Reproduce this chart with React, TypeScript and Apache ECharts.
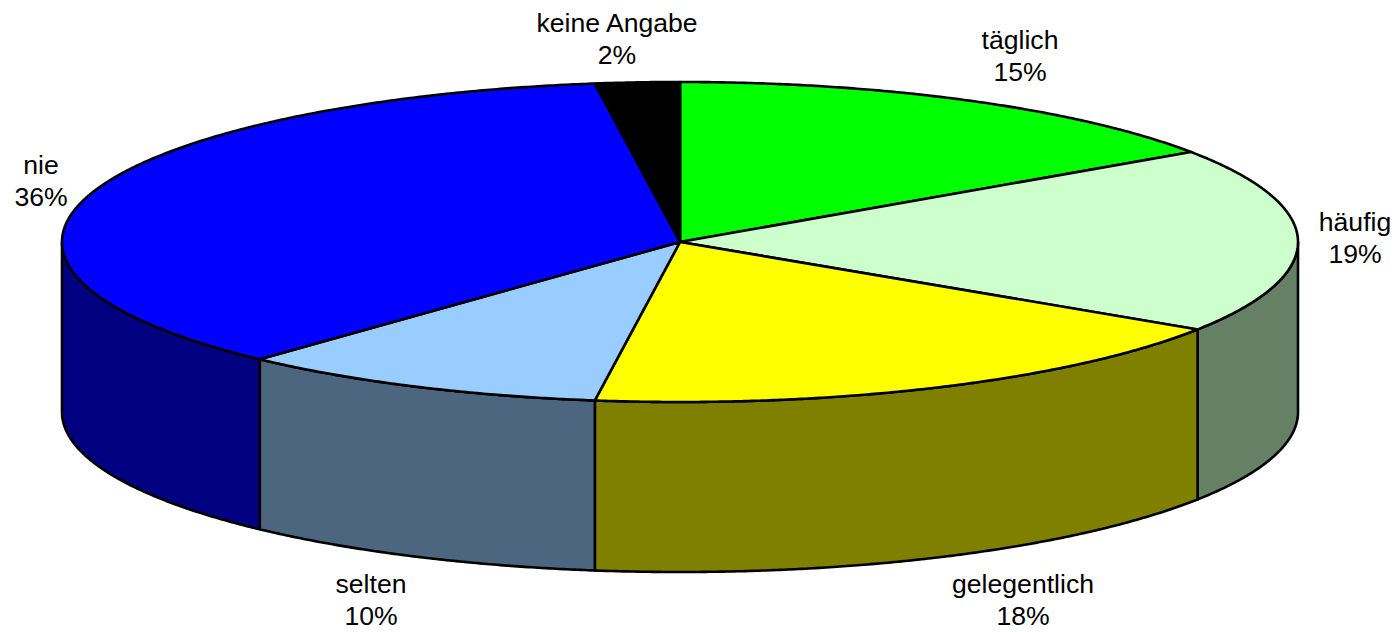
import React, { useEffect, useRef } from "react";
import * as echarts from "echarts";

const categories = ["täglich", "häufig", "gelegentlich", "selten", "nie", "keine Angabe"];
const values = [15.5, 18.7, 18.0, 9.7, 35.9, 2.2];
const percentLabels = ["15%", "19%", "18%", "10%", "36%", "2%"];
const topColors = ["#00ff00", "#ccffcc", "#ffff00", "#99ccff", "#0000ff", "#000000"];
const wallColors = ["#008000", "#668066", "#808000", "#4d6680", "#000080", "#000000"];
const labelX = [1020, 1355, 1023, 371, 41, 617];
const labelY = [56, 238, 600, 600, 181, 39];

const CX = 680;
const CY = 242;
const RX = 618;
const RY = 160;
const DEPTH = 170;
const total = values.reduce((a, b) => a + b, 0);

const point = (deg: number, dy = 0): number[] => {
  const t = (deg * Math.PI) / 180;
  return [CX + RX * Math.sin(t), CY - RY * Math.cos(t) + dy];
};

const sweep = (i: number): [number, number] => {
  let before = 0;
  for (let k = 0; k < i; k++) before += values[k];
  return [(before / total) * 360, ((before + values[i]) / total) * 360];
};

const arc = (a: number, b: number, dy = 0): number[][] => {
  const steps = Math.max(2, Math.ceil((b - a) * 3));
  const out: number[][] = [];
  for (let s = 0; s <= steps; s++) out.push(point(a + ((b - a) * s) / steps, dy));
  return out;
};

const edgeStyle = { stroke: "#000000", lineWidth: 2.6, lineJoin: "round" as const };

const renderWall = (params: any) => {
  const i = params.dataIndex;
  const [a, b] = sweep(i);
  const from = Math.max(a, 90);
  const to = Math.min(b, 270);
  if (to <= from) return { type: "group", children: [] };
  const points = [...arc(from, to), ...arc(from, to, DEPTH).reverse()];
  return {
    type: "polygon",
    shape: { points },
    style: { ...edgeStyle, fill: wallColors[i] },
  };
};

const renderTop = (params: any) => {
  const i = params.dataIndex;
  const [a, b] = sweep(i);
  return {
    type: "polygon",
    shape: { points: [[CX, CY], ...arc(a, b)] },
    style: { ...edgeStyle, fill: topColors[i] },
  };
};

export default function App() {
  const ref = useRef<HTMLDivElement>(null);
  useEffect(() => {
    if (!ref.current) return;
    const chart = echarts.init(ref.current, null, { renderer: "svg" });
    chart.setOption({
      animation: false,
      backgroundColor: "#ffffff",
      tooltip: { show: false },
      series: [
        { type: "custom", coordinateSystem: "none", silent: true, z: 1, data: values, renderItem: renderWall },
        { type: "custom", coordinateSystem: "none", silent: true, z: 2, data: values, renderItem: renderTop },
      ],
      graphic: categories.map((name, i) => ({
        type: "text",
        x: labelX[i],
        y: labelY[i],
        z: 10,
        silent: true,
        style: {
          text: name + "\n" + percentLabels[i],
          fill: "#000000",
          font: '26.6px "Liberation Sans", Arial, sans-serif',
          lineHeight: 32,
          textAlign: "center",
          textVerticalAlign: "middle",
        },
      })),
    });
    return () => chart.dispose();
  }, []);
  return (
    <div style={{ position: "fixed", left: 0, top: 0, width: 1399, height: 632 }}>
      <div ref={ref} style={{ width: 1399, height: 632 }} />
    </div>
  );
}
